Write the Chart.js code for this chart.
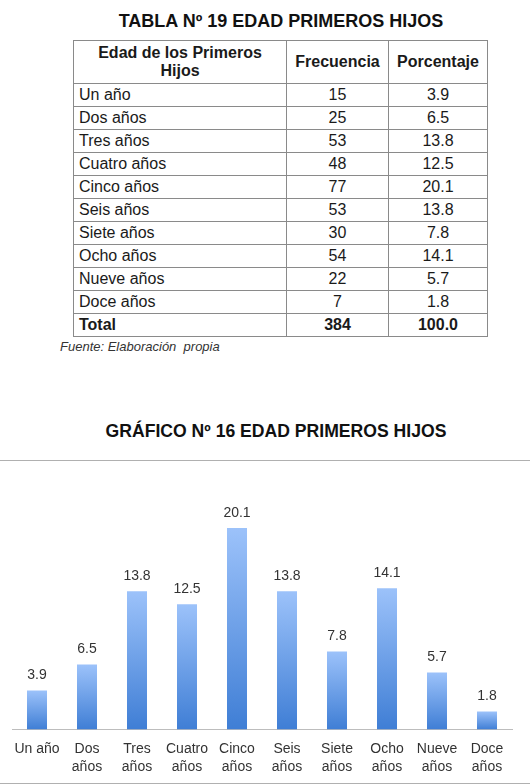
<!DOCTYPE html>
<html>
<head>
<meta charset="utf-8">
<script src="https://cdn.jsdelivr.net/npm/chart.js@4/dist/chart.umd.min.js"></script>
<style>
  html,body{margin:0;padding:0;background:#fff;width:530px;height:784px;overflow:hidden;font-family:"Liberation Sans",Arial,sans-serif;}
  #t1{position:absolute;left:0;width:562px;top:11px;text-align:center;font-weight:bold;font-size:18px;color:#111;}
  table{position:absolute;left:73px;top:40px;border-collapse:collapse;table-layout:fixed;width:414px;font-size:16px;color:#1a1a1a;}
  td,th{border:1px solid #8a8a8a;padding:0 5px;height:22px;line-height:18px;overflow:hidden;white-space:nowrap;}
  th{height:42px;font-weight:bold;text-align:center;white-space:normal;}
  td.c{text-align:center;}
  tr.tot td{font-weight:bold;}
  #src{position:absolute;left:60px;top:339px;font-size:13px;font-style:italic;color:#333;}
  #t2{position:absolute;left:0;width:552px;top:421px;text-align:center;font-weight:bold;font-size:17.6px;color:#111;}
  #box{position:absolute;left:0;top:460px;width:530px;height:322px;border-top:1px solid #b0b0b0;border-bottom:1px solid #b0b0b0;overflow:visible;}
  canvas{display:block;position:absolute;left:0;top:0;}
</style>
</head>
<body>
<div id="t1">TABLA Nº 19 EDAD PRIMEROS HIJOS</div>
<table id="tbl">
  <colgroup><col style="width:213px"><col style="width:102px"><col style="width:99px"></colgroup>
  <thead><tr><th>Edad de los Primeros<br>Hijos</th><th>Frecuencia</th><th>Porcentaje</th></tr></thead>
  <tbody id="tb"></tbody>
</table>
<div id="src">Fuente: Elaboración&nbsp; propia</div>
<div id="t2">GRÁFICO Nº 16 EDAD PRIMEROS HIJOS</div>
<div id="box"><canvas id="c" width="530" height="325"></canvas></div>
<script>
const categories = ["Un año","Dos años","Tres años","Cuatro años","Cinco años","Seis años","Siete años","Ocho años","Nueve años","Doce años"];
const chartLabels = [["Un año"],["Dos","años"],["Tres","años"],["Cuatro","años"],["Cinco","años"],["Seis","años"],["Siete","años"],["Ocho","años"],["Nueve","años"],["Doce","años"]];
const frecuencia = [15,25,53,48,77,53,30,54,22,7];
const porcentaje = [3.9,6.5,13.8,12.5,20.1,13.8,7.8,14.1,5.7,1.8];
const totalFrecuencia = 384;
const totalPorcentaje = "100.0";

// table
const tb = document.getElementById('tb');
categories.forEach((c,i)=>{
  const tr = document.createElement('tr');
  tr.innerHTML = `<td>${c}</td><td class="c">${frecuencia[i]}</td><td class="c">${porcentaje[i].toFixed(1)}</td>`;
  tb.appendChild(tr);
});
const trt = document.createElement('tr'); trt.className='tot';
trt.innerHTML = `<td>Total</td><td class="c">${totalFrecuencia}</td><td class="c">${totalPorcentaje}</td>`;
tb.appendChild(trt);

const valueLabels = {
  id:'valueLabels',
  afterDatasetsDraw(chart){
    const ctx = chart.ctx;
    const meta = chart.getDatasetMeta(0);
    ctx.save();
    ctx.font = '14px "Liberation Sans", Arial, sans-serif';
    ctx.fillStyle = '#333';
    ctx.textAlign = 'center';
    ctx.textBaseline = 'middle';
    meta.data.forEach((el,i)=>{
      ctx.fillText(porcentaje[i].toFixed(1), el.x, el.y - 15);
    });
    ctx.restore();
  }
};

new Chart(document.getElementById('c'), {
  type:'bar',
  data:{
    labels: chartLabels,
    datasets:[{
      data: porcentaje,
      backgroundColor(context){
        const chart = context.chart;
        const area = chart.chartArea;
        if(!area) return '#6a9de6';
        const ys = chart.scales.y;
        const v = context.raw;
        const top = ys.getPixelForValue(v);
        const base = ys.getPixelForValue(0);
        const g = chart.ctx.createLinearGradient(0, top, 0, base);
        g.addColorStop(0,'#9cc2fa');
        g.addColorStop(1,'#3f7ed5');
        return g;
      },
      borderWidth:0,
      barPercentage:0.4,
      categoryPercentage:1
    }]
  },
  options:{
    responsive:false,
    animation:false,
    layout:{padding:{left:12,right:18,top:48,bottom:0}},
    plugins:{legend:{display:false},tooltip:{enabled:false}},
    scales:{
      y:{display:false,min:0,max:22},
      x:{
        grid:{display:false,drawTicks:false},
        border:{display:true,color:'#bdbdbd',width:1},
        ticks:{color:'#333',font:{size:14,family:'"Liberation Sans", Arial, sans-serif',lineHeight:1.3},padding:10,maxRotation:0,autoSkip:false}
      }
    }
  },
  plugins:[valueLabels]
});
</script>
</body>
</html>
